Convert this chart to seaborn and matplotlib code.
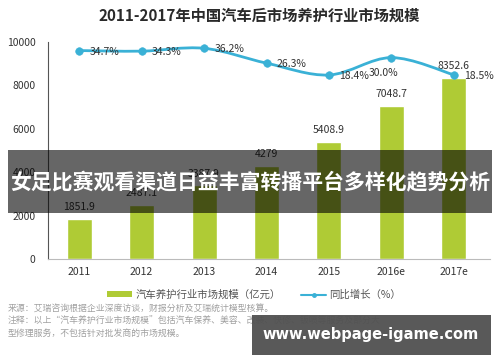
import matplotlib
matplotlib.use("Agg")
import matplotlib.pyplot as plt
import seaborn as sns
import numpy as np
import pandas as pd
from matplotlib.path import Path
from matplotlib.patches import PathPatch, Rectangle
from matplotlib.lines import Line2D
from matplotlib.patches import Patch

sns.set_theme(style="white")
plt.rcParams['font.family'] = ['Noto Sans CJK SC', 'DejaVu Sans']

title = "2011-2017年中国汽车后市场养护行业市场规模"
years = ["2011", "2012", "2013", "2014", "2015", "2016e", "2017e"]
market = [1851.9, 2487.1, 3387.9, 4279.0, 5408.9, 7048.7, 8352.6]
market_labels = ["1851.9", "2487.1", "3387.9", "4279", "5408.9", "7048.7", "8352.6"]
growth = [34.7, 34.3, 36.2, 26.3, 18.4, 30.0, 18.5]
growth_labels = ["34.7%", "34.3%", "36.2%", "26.3%", "18.4%", "30.0%", "18.5%"]
yticks = [0, 2000, 4000, 6000, 8000, 10000]
legend_bar = "汽车养护行业市场规模（亿元）"
legend_line = "同比增长（%）"
source_lines = [
    "来源：艾瑞咨询根据企业深度访谈，财报分析及艾瑞统计模型核算。",
    "注释：以上“汽车养护行业市场规模”包括汽车保养、美容、改装、快修、钣喷等服务及部分大",
    "型修理服务，不包括针对批发商的市场规模。",
]
banner = "女足比赛观看渠道日益丰富转播平台多样化趋势分析"
watermark = "www.webpage-igame.com"

BAR = "#AFCB35"
LINE = "#3AB1D6"
TXT = "#333333"

W, H = 500, 362
fig = plt.figure(figsize=(W / 100, H / 100), dpi=100)
fig.patch.set_facecolor("white")

def fx(px):
    return px / W

def fy(py):
    return 1 - py / H

ax = fig.add_axes([fx(48), fy(259), fx(490) - fx(48), fy(42) - fy(259)])
df = pd.DataFrame({"year": years, "market": market})
sns.barplot(data=df, x="year", y="market", color=BAR, saturation=1, width=0.4, ax=ax)
ax.set_xlim(-0.5, 6.58)
ax.set_ylim(0, 10000)
ax.set_yticks(yticks)
ax.set_yticklabels([str(v) for v in yticks], fontsize=7.5, color=TXT)
ax.tick_params(axis="x", labelsize=7.5, colors=TXT, length=0, pad=6)
ax.tick_params(axis="y", length=0, pad=9)
ax.set_xlabel("")
ax.set_ylabel("")
for s in ["top", "right"]:
    ax.spines[s].set_visible(False)
ax.spines["left"].set_color("#555555")
ax.spines["left"].set_linewidth(0.8)
ax.spines["bottom"].set_color("#bbbbbb")
ax.spines["bottom"].set_linewidth(0.8)
ax.patch.set_alpha(0)

for i, (v, lab) in enumerate(zip(market, market_labels)):
    ax.annotate(lab, (i, v), xytext=(0, 5), textcoords="offset points",
                ha="center", va="bottom", fontsize=7.5, color=TXT)

# secondary axis for growth
ax2 = ax.twinx()
ax2.set_ylim(-104.3, 40.4)
ax2.axis("off")
xs = np.arange(len(growth), dtype=float)
ys = np.array(growth, dtype=float)
# smooth curve via Catmull-Rom style bezier path through data points
verts = [(xs[0], ys[0])]
codes = [Path.MOVETO]
n = len(xs)
for i in range(n - 1):
    p0 = np.array([xs[max(i - 1, 0)], ys[max(i - 1, 0)]])
    p1 = np.array([xs[i], ys[i]])
    p2 = np.array([xs[i + 1], ys[i + 1]])
    p3 = np.array([xs[min(i + 2, n - 1)], ys[min(i + 2, n - 1)]])
    c1 = p1 + (p2 - p0) / 6.0
    c2 = p2 - (p3 - p1) / 6.0
    verts += [tuple(c1), tuple(c2), tuple(p2)]
    codes += [Path.CURVE4, Path.CURVE4, Path.CURVE4]
ax2.add_patch(PathPatch(Path(verts, codes), facecolor="none", edgecolor=LINE, lw=2, zorder=3))
sns.scatterplot(x=xs, y=ys, ax=ax2, color=LINE, s=30, edgecolor=LINE, zorder=4, legend=False)
ax2.axis("off")
for i, (v, lab) in enumerate(zip(growth, growth_labels)):
    if lab == "30.0%":
        ax2.annotate(lab, (i, v), xytext=(-6, -11), textcoords="offset points",
                     ha="center", va="center", fontsize=7.5, color=TXT, zorder=5)
    else:
        ax2.annotate(lab, (i, v), xytext=(7.5, -0.8), textcoords="offset points",
                     ha="left", va="center", fontsize=7.5, color=TXT, zorder=5)

# title
fig.text(fx(259), fy(16), title, ha="center", va="center", fontsize=11,
         fontweight="bold", color="#2a2a2a")

# legend
handles = [Patch(facecolor=BAR, edgecolor="none"),
           Line2D([0], [0], color=LINE, lw=1.5, marker="o", markersize=2.5)]
leg = fig.legend(handles, [legend_bar, legend_line], loc="center",
                 bbox_to_anchor=(fx(254), fy(295)), ncol=2, frameon=False,
                 fontsize=7.5, handlelength=2.4, handleheight=0.5,
                 columnspacing=2.0, handletextpad=0.3)
for t in leg.get_texts():
    t.set_color("#555555")

# source notes
for k, line in enumerate(source_lines):
    fig.text(fx(8), fy(309 + 12 * k), line, ha="left", va="center",
             fontsize=6.4, color="#a0a0a0")

# banner overlay
fig.add_artist(Rectangle((fx(8), fy(213)), fx(492) - fx(8), fy(150) - fy(213),
                         transform=fig.transFigure, facecolor="black", alpha=0.6,
                         edgecolor="none", zorder=10))
fig.text(fx(250), fy(183), banner, ha="center", va="center", fontsize=15,
         fontweight="bold", color="white", zorder=11)

# watermark box
fig.add_artist(Rectangle((fx(252), fy(355)), fx(491) - fx(252), fy(315) - fy(355),
                         transform=fig.transFigure, facecolor="#505050", alpha=0.95,
                         edgecolor="none", zorder=10))
fig.text(fx(371), fy(335), watermark, ha="center", va="center", fontsize=10.5,
         fontweight="bold", color="white", zorder=11, family=["DejaVu Sans"])

fig.savefig("out.png", dpi=100)
